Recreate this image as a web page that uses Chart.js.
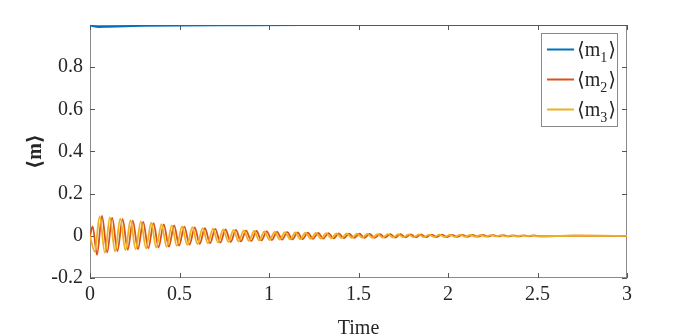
<!DOCTYPE html>
<html>
<head>
<meta charset="utf-8">
<script src="https://cdn.jsdelivr.net/npm/chart.js@4.4.1/dist/chart.umd.min.js"></script>
<style>
  html, body { margin: 0; padding: 0; background: #fff; }
  #wrap { width: 692px; height: 334px; position: relative; }
</style>
</head>
<body>
<div id="wrap"><canvas id="c" width="692" height="334"></canvas></div>
<script>
// ---- data ----
const xTicks = [0, 0.5, 1, 1.5, 2, 2.5, 3];
const xTickLabels = ['0', '0.5', '1', '1.5', '2', '2.5', '3'];
const yTicks = [-0.2, 0, 0.2, 0.4, 0.6, 0.8];
const yTickLabels = ['-0.2', '0', '0.2', '0.4', '0.6', '0.8'];
const xTitle = 'Time';
const yTitle = '⟨m⟩';
const seriesLabels = ['⟨m₁⟩', '⟨m₂⟩', '⟨m₃⟩'];
const legendSubs = ['1', '2', '3'];

const m1Time = [0, 0.02, 0.05, 0.1, 0.2, 0.3, 0.5, 0.8, 1.2, 2, 3];
const m1Vals = [0.999, 0.994, 0.991, 0.992, 0.994, 0.996, 0.998, 0.999, 1.0, 1.0, 1.0];

const m2Time = [0, 0.015, 0.039,
  0.067, 0.096, 0.124, 0.153, 0.182, 0.211, 0.239, 0.268, 0.297, 0.326,
  0.355, 0.383, 0.412, 0.441, 0.470, 0.498, 0.527, 0.556, 0.585, 0.613,
  0.642, 0.671, 0.700, 0.728, 0.757, 0.786, 0.815, 0.843, 0.872, 0.901,
  0.930, 0.958, 0.987, 1.016, 1.045, 1.073, 1.102, 1.131, 1.160, 1.188,
  1.217, 1.246, 1.275, 1.303, 1.332, 1.361, 1.390, 1.418, 1.447, 1.476,
  1.505, 1.533, 1.562, 1.591, 1.620, 1.648, 1.677, 1.706, 1.735, 1.763,
  1.792, 1.821, 1.850, 1.878, 1.907, 1.936, 1.965, 1.993, 2.022, 2.051,
  2.080, 2.108, 2.137, 2.166, 2.195, 2.223, 2.252, 2.281, 2.310, 2.338,
  2.367, 2.396, 2.425, 2.453, 2.482, 2.511, 2.7, 3.0];
const m2Vals = [0, 0.045, -0.09,
  0.094, -0.078, 0.085, -0.072, 0.079, -0.066, 0.072, -0.063, 0.066, -0.059,
  0.060, -0.055, 0.054, -0.051, 0.049, -0.046, 0.044, -0.042, 0.040, -0.038,
  0.036, -0.035, 0.033, -0.032, 0.030, -0.029, 0.028, -0.026, 0.025, -0.024,
  0.023, -0.022, 0.021, -0.020, 0.019, -0.018, 0.0175, -0.017, 0.016, -0.0155,
  0.015, -0.014, 0.0135, -0.013, 0.0125, -0.012, 0.0115, -0.011, 0.0105, -0.010,
  0.010, -0.0095, 0.009, -0.009, 0.0085, -0.0085, 0.008, -0.008, 0.0075, -0.0075,
  0.007, -0.007, 0.0065, -0.0065, 0.006, -0.006, 0.0055, -0.0055, 0.005, -0.005,
  0.0045, -0.0045, 0.004, -0.004, 0.004, -0.0035, 0.0035, -0.003, 0.003, -0.003,
  0.0025, -0.0025, 0.002, -0.002, 0.002, -0.002, 0.0005, 0];

const m3Time = [0, 0.026,
  0.054, 0.083, 0.111, 0.140, 0.169, 0.198, 0.226, 0.255, 0.284, 0.313,
  0.342, 0.370, 0.399, 0.428, 0.457, 0.485, 0.514, 0.543, 0.572, 0.600,
  0.629, 0.658, 0.687, 0.715, 0.744, 0.773, 0.802, 0.830, 0.859, 0.888,
  0.917, 0.945, 0.974, 1.003, 1.032, 1.060, 1.089, 1.118, 1.147, 1.175,
  1.204, 1.233, 1.262, 1.290, 1.319, 1.348, 1.377, 1.405, 1.434, 1.463,
  1.492, 1.520, 1.549, 1.578, 1.607, 1.635, 1.664, 1.693, 1.722, 1.750,
  1.779, 1.808, 1.837, 1.865, 1.894, 1.923, 1.952, 1.980, 2.009, 2.038,
  2.067, 2.095, 2.124, 2.153, 2.182, 2.210, 2.239, 2.268, 2.297, 2.325,
  2.354, 2.383, 2.412, 2.440, 2.469, 2.498, 2.7, 3.0];
const m3Vals = [0, -0.075,
  0.092, -0.080, 0.087, -0.074, 0.081, -0.068, 0.074, -0.064, 0.068, -0.060,
  0.062, -0.056, 0.056, -0.052, 0.050, -0.047, 0.045, -0.043, 0.041, -0.039,
  0.037, -0.035, 0.034, -0.032, 0.031, -0.029, 0.028, -0.027, 0.026, -0.024,
  0.023, -0.022, 0.021, -0.020, 0.019, -0.018, 0.018, -0.017, 0.016, -0.016,
  0.015, -0.014, 0.014, -0.013, 0.0125, -0.012, 0.0115, -0.011, 0.011, -0.010,
  0.010, -0.0095, 0.009, -0.009, 0.0085, -0.0085, 0.008, -0.008, 0.0075, -0.0075,
  0.007, -0.007, 0.0065, -0.0065, 0.006, -0.006, 0.0055, -0.0055, 0.005, -0.005,
  0.0045, -0.0045, 0.004, -0.004, 0.004, -0.0035, 0.0035, -0.003, 0.003, -0.003,
  0.0025, -0.0025, 0.002, -0.002, 0.002, -0.002, 0.0005, 0];

const colors = ['#0072BD', '#D95319', '#EDB120'];
const FONT = '"Liberation Serif", "DejaVu Serif", serif';
const AXIS_COLOR = '#8a8a8a';
const TEXT_COLOR = '#262626';

function pts(t, v) { return t.map((x, i) => ({ x: x, y: v[i] })); }

// box + inward ticks (MATLAB style)
const boxPlugin = {
  id: 'box',
  beforeDatasetsDraw(chart) {
    const { ctx, chartArea: a, scales: { x, y } } = chart;
    ctx.save();
    ctx.strokeStyle = AXIS_COLOR;
    ctx.lineWidth = 1;
    ctx.strokeRect(a.left + 0.5, a.top + 0.5, a.right - a.left - 1, a.bottom - a.top - 1);
    ctx.strokeStyle = '#555';
    const L = 5;
    ctx.beginPath();
    xTicks.forEach(v => {
      const px = Math.round(x.getPixelForValue(v)) + 0.5;
      ctx.moveTo(px, a.bottom); ctx.lineTo(px, a.bottom - L);
      ctx.moveTo(px, a.top); ctx.lineTo(px, a.top + L);
    });
    yTicks.forEach(v => {
      const py = Math.round(y.getPixelForValue(v)) + 0.5;
      ctx.moveTo(a.left, py); ctx.lineTo(a.left + L, py);
      ctx.moveTo(a.right, py); ctx.lineTo(a.right - L, py);
    });
    ctx.stroke();
    ctx.restore();
  }
};

// legend inside the axes, top-right, with subscripts
const legendPlugin = {
  id: 'matlabLegend',
  afterDraw(chart) {
    const { ctx, chartArea: a } = chart;
    const bx = a.right - 86, by = a.top + 8, bw = 77, bh = 94;
    ctx.save();
    ctx.fillStyle = '#fff';
    ctx.fillRect(bx, by, bw, bh);
    ctx.strokeStyle = AXIS_COLOR;
    ctx.lineWidth = 1;
    ctx.strokeRect(bx + 0.5, by + 0.5, bw - 1, bh - 1);
    chart.data.datasets.forEach((ds, i) => {
      const ry = by + 16.5 + i * 30;
      ctx.strokeStyle = ds.borderColor;
      ctx.lineWidth = 2;
      ctx.beginPath();
      ctx.moveTo(bx + 6, ry); ctx.lineTo(bx + 33, ry);
      ctx.stroke();
      ctx.fillStyle = TEXT_COLOR;
      ctx.textBaseline = 'alphabetic';
      ctx.font = '20px ' + FONT;
      let tx = bx + 36;
      const base = ry + 6;
      ctx.fillText('⟨m', tx, base);
      tx += ctx.measureText('⟨m').width;
      ctx.font = '14px ' + FONT;
      ctx.fillText(legendSubs[i], tx, base + 6);
      tx += ctx.measureText(legendSubs[i]).width + 1;
      ctx.font = '20px ' + FONT;
      ctx.fillText('⟩', tx, base);
    });
    ctx.restore();
  }
};

const lineDefaults = { pointRadius: 0, borderWidth: 1.8, fill: false, cubicInterpolationMode: 'monotone' };

new Chart(document.getElementById('c'), {
  type: 'line',
  data: {
    datasets: [
      Object.assign({ label: seriesLabels[0], data: pts(m1Time, m1Vals), borderColor: colors[0], order: 2 }, lineDefaults, { borderWidth: 2 }),
      Object.assign({ label: seriesLabels[1], data: pts(m2Time, m2Vals), borderColor: colors[1], order: 1 }, lineDefaults),
      Object.assign({ label: seriesLabels[2], data: pts(m3Time, m3Vals), borderColor: colors[2], order: 0 }, lineDefaults)
    ]
  },
  options: {
    responsive: false,
    animation: false,
    events: [],
    layout: { padding: { left: 0, right: 65, top: 25, bottom: 0 } },
    plugins: { legend: { display: false }, tooltip: { enabled: false } },
    scales: {
      x: {
        type: 'linear', min: 0, max: 3,
        afterBuildTicks: s => { s.ticks = xTicks.map(v => ({ value: v })); },
        afterFit: s => { s.height = 56; },
        ticks: {
          autoSkip: false, maxRotation: 0, padding: 5, color: TEXT_COLOR,
          font: { family: FONT, size: 20 },
          callback: (v, i) => xTickLabels[i]
        },
        grid: { display: false, drawTicks: false },
        border: { display: false },
        title: { display: true, text: xTitle, color: TEXT_COLOR,
                 font: { family: FONT, size: 20, lineHeight: 1 }, padding: { top: 0, bottom: -5 } }
      },
      y: {
        type: 'linear', min: -0.2, max: 1.0,
        afterBuildTicks: s => { s.ticks = yTicks.map(v => ({ value: v })); },
        afterFit: s => { s.width = 90; },
        ticks: {
          autoSkip: false, padding: 7, color: TEXT_COLOR,
          font: { family: FONT, size: 20 },
          callback: (v, i) => yTickLabels[i]
        },
        grid: { display: false, drawTicks: false },
        border: { display: false },
        title: { display: true, text: yTitle, color: TEXT_COLOR,
                 font: { family: FONT, size: 20, weight: 'bold' }, padding: { top: 24, bottom: 0 } }
      }
    }
  },
  plugins: [boxPlugin, legendPlugin]
});
</script>
</body>
</html>
